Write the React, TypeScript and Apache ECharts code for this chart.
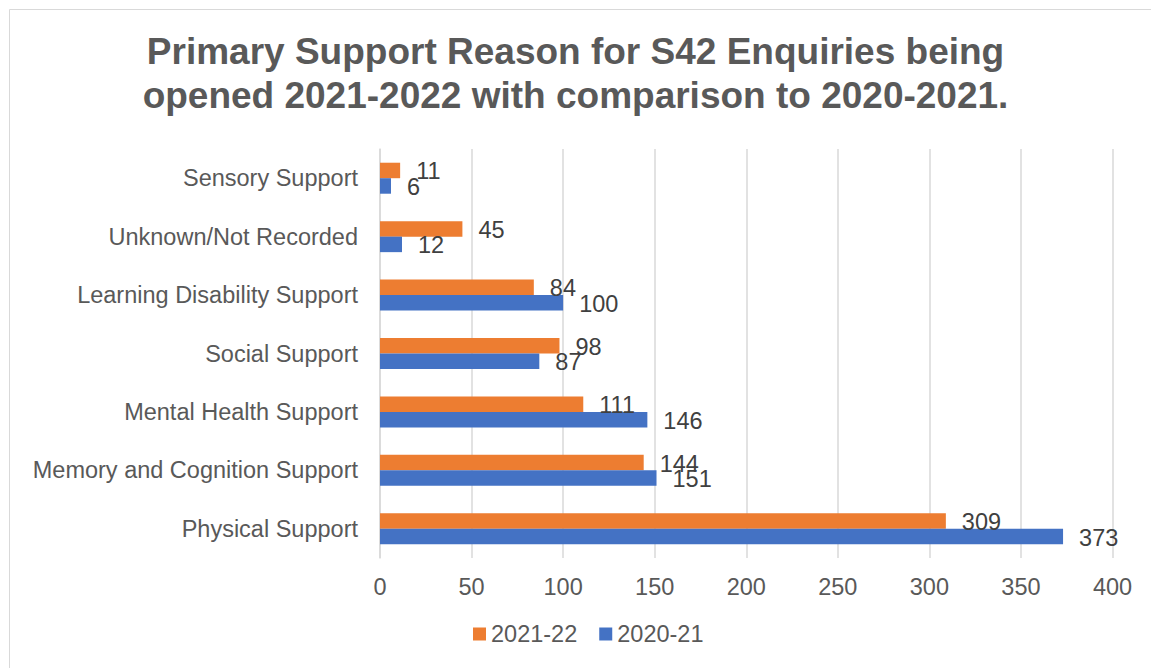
import React, { useEffect, useRef } from "react";
import * as echarts from "echarts";

const categories = [
  "Physical Support",
  "Memory and Cognition Support",
  "Mental Health Support",
  "Social Support",
  "Learning Disability Support",
  "Unknown/Not Recorded",
  "Sensory Support",
];
const values2021_22 = [309, 144, 111, 98, 84, 45, 11];
const values2020_21 = [373, 151, 146, 87, 100, 12, 6];
const xTicks = [0, 50, 100, 150, 200, 250, 300, 350, 400];

const titleText =
  "Primary Support Reason for S42 Enquiries being\nopened 2021-2022 with comparison to 2020-2021.";

export default function App() {
  const ref = useRef<HTMLDivElement>(null);
  useEffect(() => {
    if (!ref.current) return;
    const chart = echarts.init(ref.current, undefined, { renderer: "svg" });
    const font = "Liberation Sans, Arial, sans-serif";
    const fs = 23.5;
    const labelStyle = {
      show: true,
      position: "right" as const,
      distance: 16,
      color: "#404040",
      fontSize: fs,
      fontFamily: font,
    };
    chart.setOption({
      animation: false,
      backgroundColor: "#ffffff",
      textStyle: { fontFamily: font },
      graphic: [
        {
          type: "rect",
          shape: { x: 9.5, y: 9.5, width: 1160, height: 700 },
          style: { fill: "none", stroke: "#D9D9D9", lineWidth: 1 },
          silent: true,
        },
      ],
      title: {
        text: titleText,
        left: "center",
        top: 24,
        textStyle: {
          fontFamily: font,
          fontSize: 37,
          fontWeight: "bold",
          color: "#595959",
          lineHeight: 44,
        },
      },
      legend: {
        bottom: 22,
        left: 473,
        padding: 0,
        itemWidth: 13,
        itemHeight: 13,
        itemGap: 22,
        icon: "rect",
        data: ["2021-22", "2020-21"],
        textStyle: { fontSize: fs, color: "#595959", fontFamily: font },
      },
      grid: {
        left: 380,
        right: 1151 - 1112.5,
        top: 149,
        bottom: 668 - 558,
        containLabel: false,
      },
      xAxis: {
        type: "value",
        min: xTicks[0],
        max: xTicks[xTicks.length - 1],
        interval: 50,
        axisLine: { show: false },
        axisTick: { show: false },
        splitLine: { lineStyle: { color: "#D9D9D9", width: 1.5 } },
        axisLabel: {
          fontSize: fs,
          color: "#595959",
          margin: 17,
          fontFamily: font,
        },
      },
      yAxis: {
        type: "category",
        data: categories,
        axisLine: { show: true, lineStyle: { color: "#D9D9D9", width: 1.5 } },
        axisTick: { show: false },
        axisLabel: {
          fontSize: fs,
          color: "#595959",
          margin: 22,
          fontFamily: font,
        },
      },
      series: [
        {
          name: "2021-22",
          type: "bar",
          data: values2021_22,
          barWidth: 15.5,
          barGap: "0%",
          itemStyle: { color: "#ED7D31" },
          label: { ...labelStyle, offset: [0, 1] },
        },
        {
          name: "2020-21",
          type: "bar",
          data: values2020_21,
          barWidth: 15.5,
          barGap: "0%",
          itemStyle: { color: "#4472C4" },
          label: { ...labelStyle, offset: [0, 1] },
        },
      ],
    });
    return () => chart.dispose();
  }, []);
  return (
    <div
      ref={ref}
      style={{ position: "fixed", left: 0, top: 0, width: 1151, height: 668 }}
    />
  );
}
